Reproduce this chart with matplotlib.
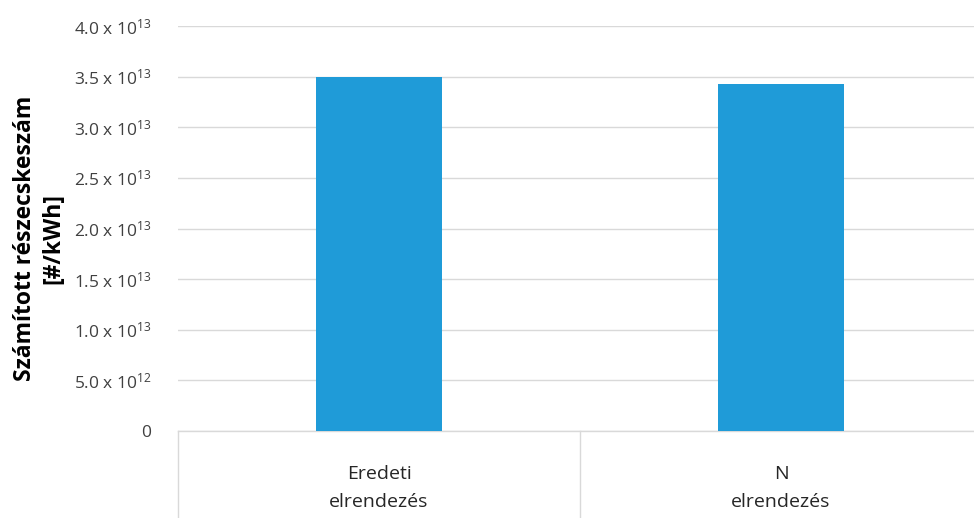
import matplotlib
matplotlib.use("Agg")
import matplotlib.pyplot as plt
from matplotlib.ticker import FixedLocator, FixedFormatter

categories = ["Eredeti\nelrendezés", "N\nelrendezés"]
values = [3.50e13, 3.43e13]
ytick_values = [0, 0.5e13, 1.0e13, 1.5e13, 2.0e13, 2.5e13, 3.0e13, 3.5e13, 4.0e13]
ytick_labels = ["0",
                "5.0 x 10$^{12}$",
                "1.0 x 10$^{13}$",
                "1.5 x 10$^{13}$",
                "2.0 x 10$^{13}$",
                "2.5 x 10$^{13}$",
                "3.0 x 10$^{13}$",
                "3.5 x 10$^{13}$",
                "4.0 x 10$^{13}$"]
ylabel = "Számított részecskeszám\n[#/kWh]"

plt.rcParams["font.family"] = ["Open Sans", "DejaVu Sans"]
plt.rcParams["mathtext.default"] = "regular"

fig = plt.figure(figsize=(9.74, 5.18), dpi=100)
ax = fig.add_axes([178 / 974, 87 / 518, 1 - 178 / 974, (431 - 26) / 518])

x = list(range(len(categories)))
ax.bar(x, values, width=0.315, color="#1f9bd8", zorder=3)

ax.set_xlim(-0.5, 1.48)
ax.set_ylim(0, 4.0e13)

ax.yaxis.set_major_locator(FixedLocator(ytick_values))
ax.yaxis.set_major_formatter(FixedFormatter(ytick_labels))
ax.tick_params(axis="y", length=0, pad=19, labelsize=12.5, labelcolor="#404040")
ax.grid(axis="y", color="#d9d9d9", linewidth=1.0, zorder=0)

ax.set_xticks([])
for s in ["top", "right", "left"]:
    ax.spines[s].set_visible(False)
ax.spines["bottom"].set_color("#d9d9d9")
ax.spines["bottom"].set_linewidth(1.0)

# category separators below the axis
trans = ax.get_xaxis_transform()
for xb in [-0.5, 0.5, 1.5]:
    ax.plot([xb, xb], [0, -0.22], transform=trans, color="#d9d9d9",
            linewidth=1.0, clip_on=False)

for xi, lab in zip(x, categories):
    ax.text(xi, -0.14, lab, transform=trans, ha="center", va="center",
            fontsize=14, color="#262626", linespacing=1.7)

fig.text(0.040, 0.54, ylabel, rotation=90, ha="center", va="center",
         fontsize=16.5, fontweight="bold", color="#000000", linespacing=1.25)

fig.savefig("out.png", dpi=100)
